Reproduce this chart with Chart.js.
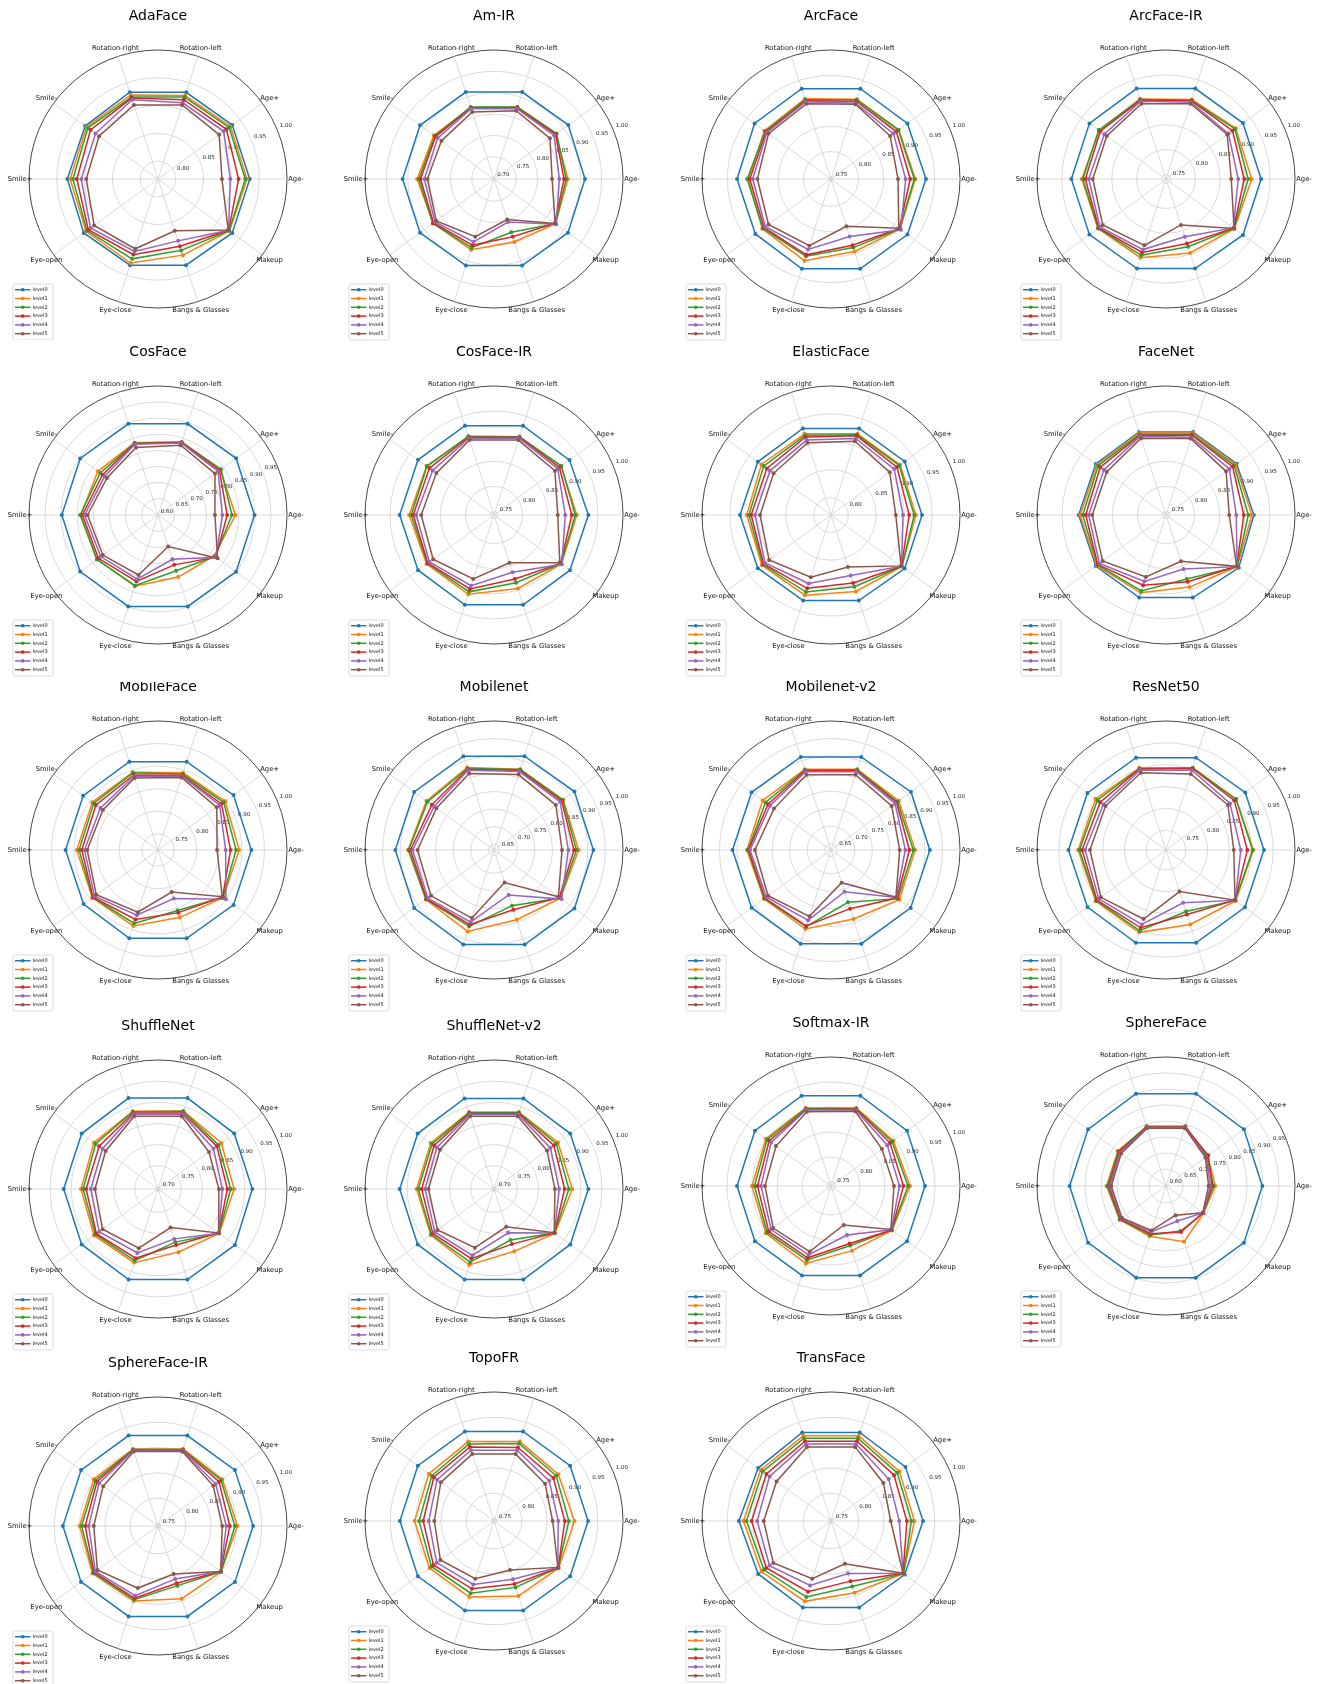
<!DOCTYPE html>
<html><head><meta charset="utf-8">
<script src="https://cdn.jsdelivr.net/npm/chart.js@4.4.1/dist/chart.umd.min.js"></script>
<style>
html,body{margin:0;padding:0;background:#fff;}
body{width:1319px;height:1684px;position:relative;overflow:hidden;}
canvas{position:absolute;}
</style></head><body>
<script>
// ---------------- DATA ----------------
const categories = ['Age-','Age+','Rotation-left','Rotation-right','Smile-','Smile+','Eye-open','Eye-close','Bangs & Glasses','Makeup'];
const levels = ['level0','level1','level2','level3','level4','level5'];
const models = ['AdaFace','Am-IR','ArcFace','ArcFace-IR','CosFace','CosFace-IR','ElasticFace','FaceNet','MobileFace','Mobilenet','Mobilenet-v2','ResNet50','ShuffleNet','ShuffleNet-v2','Softmax-IR','SphereFace','SphereFace-IR','TopoFR','TransFace'];

// rows = level0..level5, columns follow `categories`
const AdaFace = [
 [0.933,0.933,0.932,0.932,0.930,0.931,0.933,0.931,0.931,0.933],
 [0.928,0.929,0.926,0.927,0.927,0.926,0.928,0.927,0.912,0.927],
 [0.925,0.926,0.923,0.923,0.924,0.921,0.926,0.919,0.903,0.926],
 [0.913,0.920,0.918,0.921,0.918,0.914,0.923,0.911,0.895,0.925],
 [0.898,0.914,0.912,0.918,0.907,0.906,0.918,0.905,0.885,0.925],
 [0.883,0.904,0.908,0.908,0.899,0.897,0.910,0.900,0.866,0.924]];
const AmIR = [
 [0.911,0.913,0.912,0.912,0.912,0.912,0.912,0.911,0.911,0.912],
 [0.871,0.877,0.875,0.874,0.872,0.878,0.874,0.872,0.853,0.876],
 [0.867,0.879,0.875,0.875,0.869,0.874,0.875,0.867,0.829,0.876],
 [0.862,0.876,0.873,0.873,0.867,0.870,0.873,0.861,0.840,0.874],
 [0.851,0.872,0.871,0.871,0.861,0.861,0.869,0.853,0.804,0.878],
 [0.834,0.860,0.866,0.863,0.850,0.854,0.865,0.840,0.798,0.875]];
const ArcFace = [
 [0.933,0.932,0.933,0.933,0.932,0.931,0.930,0.932,0.932,0.932],
 [0.912,0.911,0.911,0.912,0.908,0.909,0.913,0.915,0.896,0.914],
 [0.910,0.910,0.910,0.910,0.906,0.911,0.912,0.906,0.888,0.913],
 [0.902,0.905,0.907,0.908,0.904,0.906,0.909,0.903,0.883,0.912],
 [0.893,0.898,0.903,0.906,0.902,0.900,0.906,0.892,0.865,0.916],
 [0.878,0.890,0.901,0.902,0.898,0.891,0.898,0.884,0.844,0.911]];
const ArcFaceIR = [
 [0.932,0.932,0.932,0.932,0.931,0.931,0.931,0.930,0.930,0.932],
 [0.913,0.914,0.909,0.910,0.907,0.910,0.910,0.907,0.897,0.911],
 [0.906,0.912,0.907,0.909,0.908,0.908,0.909,0.902,0.884,0.910],
 [0.898,0.906,0.906,0.907,0.904,0.903,0.908,0.896,0.877,0.909],
 [0.886,0.896,0.903,0.905,0.894,0.896,0.905,0.890,0.863,0.908],
 [0.872,0.893,0.900,0.900,0.888,0.888,0.898,0.881,0.838,0.910]];
const CosFace = [
 [0.899,0.899,0.897,0.897,0.898,0.898,0.898,0.898,0.898,0.899],
 [0.840,0.838,0.838,0.835,0.830,0.839,0.833,0.832,0.802,0.815],
 [0.829,0.841,0.837,0.834,0.821,0.841,0.834,0.830,0.781,0.818],
 [0.814,0.835,0.836,0.833,0.812,0.834,0.828,0.816,0.762,0.822],
 [0.799,0.830,0.834,0.830,0.804,0.827,0.819,0.809,0.744,0.822],
 [0.776,0.818,0.827,0.820,0.795,0.818,0.811,0.795,0.702,0.828]];
const CosFaceIR = [
 [0.931,0.929,0.930,0.930,0.930,0.931,0.930,0.931,0.931,0.930],
 [0.908,0.908,0.907,0.907,0.909,0.912,0.909,0.909,0.897,0.909],
 [0.905,0.909,0.907,0.908,0.908,0.908,0.907,0.904,0.885,0.908],
 [0.898,0.904,0.906,0.906,0.902,0.904,0.906,0.898,0.877,0.907],
 [0.885,0.900,0.904,0.904,0.894,0.898,0.902,0.891,0.863,0.910],
 [0.870,0.893,0.900,0.900,0.885,0.888,0.893,0.877,0.843,0.905]];
const ElasticFace = [
 [0.932,0.932,0.932,0.932,0.931,0.932,0.931,0.930,0.930,0.932],
 [0.921,0.922,0.922,0.922,0.923,0.920,0.922,0.920,0.913,0.926],
 [0.918,0.920,0.920,0.919,0.918,0.916,0.920,0.914,0.904,0.926],
 [0.909,0.915,0.918,0.916,0.911,0.912,0.918,0.907,0.897,0.925],
 [0.898,0.909,0.913,0.910,0.904,0.905,0.915,0.898,0.883,0.925],
 [0.885,0.899,0.908,0.905,0.896,0.896,0.906,0.886,0.867,0.924]];
const FaceNet = [
 [0.918,0.917,0.917,0.917,0.916,0.917,0.916,0.916,0.916,0.922],
 [0.914,0.914,0.915,0.915,0.913,0.914,0.914,0.906,0.894,0.918],
 [0.907,0.911,0.912,0.912,0.910,0.909,0.912,0.902,0.877,0.918],
 [0.898,0.907,0.910,0.910,0.905,0.903,0.911,0.890,0.883,0.917],
 [0.883,0.899,0.906,0.908,0.896,0.897,0.907,0.882,0.856,0.918],
 [0.869,0.891,0.903,0.904,0.889,0.890,0.899,0.873,0.840,0.917]];
const MobileFace = [
 [0.921,0.921,0.920,0.920,0.919,0.919,0.918,0.920,0.920,0.921],
 [0.894,0.898,0.894,0.895,0.894,0.894,0.894,0.891,0.871,0.893],
 [0.887,0.894,0.891,0.894,0.890,0.889,0.893,0.885,0.855,0.892],
 [0.875,0.888,0.888,0.889,0.884,0.883,0.892,0.876,0.860,0.891],
 [0.864,0.883,0.886,0.886,0.872,0.877,0.888,0.866,0.827,0.900],
 [0.845,0.875,0.883,0.882,0.865,0.871,0.883,0.859,0.812,0.890]];
const Mobilenet = [
 [0.916,0.916,0.914,0.914,0.914,0.914,0.914,0.916,0.916,0.916],
 [0.874,0.877,0.875,0.880,0.871,0.878,0.873,0.877,0.842,0.867],
 [0.868,0.875,0.874,0.877,0.867,0.876,0.872,0.862,0.800,0.866],
 [0.861,0.871,0.871,0.875,0.852,0.871,0.870,0.857,0.812,0.863],
 [0.845,0.866,0.868,0.872,0.844,0.865,0.866,0.849,0.768,0.871],
 [0.827,0.851,0.859,0.862,0.836,0.851,0.855,0.837,0.731,0.860]];
const MobilenetV2 = [
 [0.914,0.914,0.911,0.911,0.912,0.913,0.912,0.913,0.913,0.913],
 [0.872,0.871,0.874,0.874,0.873,0.872,0.869,0.869,0.839,0.873],
 [0.867,0.866,0.873,0.872,0.863,0.869,0.867,0.862,0.789,0.868],
 [0.856,0.863,0.870,0.870,0.854,0.867,0.865,0.860,0.808,0.865],
 [0.844,0.858,0.867,0.867,0.847,0.863,0.860,0.843,0.757,0.862],
 [0.828,0.846,0.858,0.858,0.833,0.849,0.854,0.831,0.730,0.861]];
const ResNet50 = [
 [0.929,0.929,0.927,0.927,0.927,0.928,0.927,0.928,0.928,0.928],
 [0.905,0.903,0.903,0.902,0.904,0.906,0.904,0.903,0.884,0.902],
 [0.903,0.903,0.902,0.901,0.899,0.903,0.902,0.899,0.853,0.901],
 [0.891,0.898,0.901,0.900,0.891,0.897,0.900,0.892,0.860,0.900],
 [0.876,0.886,0.897,0.897,0.882,0.890,0.895,0.884,0.832,0.901],
 [0.860,0.880,0.888,0.891,0.876,0.879,0.889,0.871,0.805,0.900]];
const ShuffleNet = [
 [0.918,0.918,0.921,0.921,0.918,0.918,0.918,0.920,0.920,0.920],
 [0.875,0.880,0.889,0.888,0.882,0.877,0.882,0.878,0.852,0.874],
 [0.867,0.872,0.888,0.887,0.877,0.872,0.878,0.873,0.827,0.873],
 [0.859,0.867,0.884,0.884,0.867,0.865,0.875,0.867,0.834,0.872],
 [0.847,0.857,0.881,0.881,0.857,0.854,0.867,0.854,0.819,0.873],
 [0.839,0.844,0.876,0.876,0.848,0.844,0.857,0.842,0.791,0.872]];
const ShuffleNetV2 = [
 [0.918,0.918,0.920,0.920,0.918,0.918,0.918,0.920,0.920,0.918],
 [0.880,0.882,0.886,0.886,0.880,0.878,0.880,0.884,0.850,0.873],
 [0.872,0.877,0.885,0.885,0.876,0.874,0.878,0.877,0.822,0.872],
 [0.862,0.870,0.883,0.883,0.870,0.866,0.874,0.868,0.832,0.872],
 [0.849,0.860,0.880,0.880,0.862,0.858,0.868,0.860,0.804,0.872],
 [0.839,0.850,0.876,0.876,0.853,0.850,0.860,0.841,0.789,0.871]];
const SoftmaxIR = [
 [0.930,0.930,0.932,0.932,0.930,0.930,0.930,0.930,0.930,0.930],
 [0.900,0.896,0.906,0.906,0.903,0.900,0.903,0.905,0.878,0.893],
 [0.896,0.893,0.905,0.905,0.900,0.895,0.900,0.898,0.867,0.892],
 [0.887,0.888,0.904,0.903,0.895,0.889,0.896,0.893,0.863,0.892],
 [0.879,0.881,0.902,0.902,0.890,0.882,0.890,0.887,0.845,0.891],
 [0.868,0.868,0.899,0.898,0.878,0.874,0.885,0.880,0.824,0.890]];
const SphereFace = [
 [0.898,0.898,0.900,0.900,0.898,0.898,0.898,0.898,0.898,0.898],
 [0.751,0.757,0.792,0.792,0.783,0.783,0.776,0.762,0.780,0.742],
 [0.745,0.755,0.793,0.793,0.781,0.780,0.775,0.758,0.745,0.741],
 [0.741,0.760,0.791,0.791,0.778,0.776,0.773,0.754,0.748,0.740],
 [0.736,0.752,0.789,0.789,0.774,0.772,0.770,0.748,0.712,0.740],
 [0.730,0.749,0.787,0.787,0.770,0.768,0.767,0.743,0.693,0.739]];
const SphereFaceIR = [
 [0.933,0.933,0.933,0.933,0.933,0.933,0.933,0.933,0.933,0.933],
 [0.902,0.902,0.905,0.905,0.902,0.900,0.905,0.901,0.896,0.899],
 [0.897,0.899,0.904,0.904,0.898,0.896,0.903,0.898,0.869,0.899],
 [0.887,0.894,0.903,0.903,0.894,0.889,0.901,0.895,0.864,0.898],
 [0.880,0.886,0.902,0.902,0.889,0.882,0.898,0.890,0.855,0.898],
 [0.872,0.880,0.900,0.900,0.879,0.872,0.893,0.874,0.845,0.898]];
const TopoFR = [
 [0.931,0.931,0.931,0.931,0.931,0.931,0.931,0.931,0.931,0.931],
 [0.904,0.902,0.910,0.910,0.904,0.902,0.903,0.903,0.901,0.903],
 [0.893,0.897,0.906,0.905,0.897,0.893,0.898,0.895,0.883,0.902],
 [0.885,0.890,0.898,0.899,0.892,0.885,0.893,0.886,0.876,0.902],
 [0.872,0.880,0.892,0.892,0.884,0.874,0.885,0.877,0.866,0.901],
 [0.861,0.870,0.884,0.884,0.875,0.863,0.876,0.865,0.847,0.901]];
const TransFace = [
 [0.927,0.927,0.929,0.929,0.923,0.927,0.923,0.925,0.925,0.925],
 [0.910,0.912,0.922,0.922,0.917,0.918,0.915,0.912,0.894,0.922],
 [0.904,0.907,0.917,0.917,0.912,0.912,0.909,0.903,0.881,0.922],
 [0.895,0.899,0.911,0.911,0.903,0.902,0.903,0.892,0.870,0.921],
 [0.880,0.886,0.905,0.905,0.895,0.891,0.895,0.879,0.854,0.921],
 [0.863,0.873,0.899,0.899,0.878,0.878,0.886,0.865,0.834,0.921]];

const modelData = {'AdaFace':AdaFace,'Am-IR':AmIR,'ArcFace':ArcFace,'ArcFace-IR':ArcFaceIR,'CosFace':CosFace,'CosFace-IR':CosFaceIR,'ElasticFace':ElasticFace,'FaceNet':FaceNet,'MobileFace':MobileFace,'Mobilenet':Mobilenet,'Mobilenet-v2':MobilenetV2,'ResNet50':ResNet50,'ShuffleNet':ShuffleNet,'ShuffleNet-v2':ShuffleNetV2,'Softmax-IR':SoftmaxIR,'SphereFace':SphereFace,'SphereFace-IR':SphereFaceIR,'TopoFR':TopoFR,'TransFace':TransFace};

// radial axis lower limits
const rMin = {'AdaFace':0.768,'Am-IR':0.698,'ArcFace':0.746,'ArcFace-IR':0.741,'CosFace':0.599,'CosFace-IR':0.743,'ElasticFace':0.769,'FaceNet':0.743,'MobileFace':0.714,'Mobilenet':0.634,'Mobilenet-v2':0.632,'ResNet50':0.705,'ShuffleNet':0.695,'ShuffleNet-v2':0.695,'Softmax-IR':0.742,'SphereFace':0.597,'SphereFace-IR':0.745,'TopoFR':0.745,'TransFace':0.745};
const rMax = 1.0;

// radial tick labels
const T60 = ['0.60','0.65','0.70','0.75','0.80','0.85','0.90','0.95'];
const T65 = ['0.65','0.70','0.75','0.80','0.85','0.90','0.95','1.00'];
const T70 = ['0.70','0.75','0.80','0.85','0.90','0.95','1.00'];
const T75 = ['0.75','0.80','0.85','0.90','0.95','1.00'];
const T80 = ['0.80','0.85','0.90','0.95','1.00'];
const tickLabels = {'AdaFace':T80,'Am-IR':T70,'ArcFace':T75,'ArcFace-IR':T75,'CosFace':T60,'CosFace-IR':T75,'ElasticFace':T80,'FaceNet':T75,'MobileFace':T75,'Mobilenet':T65,'Mobilenet-v2':T65,'ResNet50':T75,'ShuffleNet':T70,'ShuffleNet-v2':T70,'Softmax-IR':T75,'SphereFace':T60,'SphereFace-IR':T75,'TopoFR':T75,'TransFace':T75};

// ---------------- STYLE / LAYOUT ----------------
const colors = ['#1f77b4','#ff7f0e','#2ca02c','#d62728','#9467bd','#8c564b'];
const FONT = '"DejaVu Sans", "Liberation Sans", sans-serif';
const colX = [158, 494, 831, 1166];
const layout = [
 ['AdaFace',0,179],['Am-IR',1,179],['ArcFace',2,179],['ArcFace-IR',3,179],
 ['CosFace',0,515],['CosFace-IR',1,515],['ElasticFace',2,515],['FaceNet',3,515],
 ['MobileFace',0,850],['Mobilenet',1,850],['Mobilenet-v2',2,850],['ResNet50',3,850],
 ['ShuffleNet',0,1189],['ShuffleNet-v2',1,1189],['Softmax-IR',2,1186],['SphereFace',3,1186],
 ['SphereFace-IR',0,1526],['TopoFR',1,1521],['TransFace',2,1521]];
// Chart.js places labels clockwise from startAngle; matplotlib goes counter-clockwise from the right
const order = [0,9,8,7,6,5,4,3,2,1];

const decor = {
  id: 'decor',
  beforeDatasetsDraw(chart, args, opts) {
    const s = chart.scales.r, ctx = chart.ctx;
    const a = 22.5 * Math.PI / 180;
    ctx.save();
    ctx.font = '5.5px ' + FONT;
    ctx.fillStyle = '#222';
    ctx.textAlign = 'left';
    ctx.textBaseline = 'bottom';
    opts.ticks.forEach(t => {
      const d = s.getDistanceFromCenterForValue(parseFloat(t));
      ctx.fillText(t, s.xCenter + d * Math.cos(a) + 2.5, s.yCenter - d * Math.sin(a) - 1);
    });
    ctx.restore();
  },
  afterDraw(chart, args, opts) {
    const s = chart.scales.r, ctx = chart.ctx;
    const cx = s.xCenter, cy = s.yCenter, R = s.drawingArea;
    ctx.save();
    // category labels
    ctx.font = '6.8px ' + FONT;
    ctx.fillStyle = '#111';
    ctx.textAlign = 'center';
    ctx.textBaseline = 'middle';
    chart.data.labels.forEach((lab, i) => {
      const p = s.getPointPosition(i, R + 9);
      ctx.fillText(lab, p.x, p.y);
    });
    // title
    ctx.font = '14px ' + FONT;
    ctx.fillStyle = '#000';
    ctx.textBaseline = 'alphabetic';
    ctx.fillText(opts.title, cx, cy - 159);
    // legend
    const bx = cx - 145, by = cy + 105, bw = 40, bh = 56;
    ctx.beginPath();
    ctx.roundRect(bx, by, bw, bh, 2);
    ctx.fillStyle = 'rgba(255,255,255,0.8)';
    ctx.fill();
    ctx.lineWidth = 0.8;
    ctx.strokeStyle = '#d4d4d4';
    ctx.stroke();
    ctx.font = '5px ' + FONT;
    ctx.textAlign = 'left';
    ctx.textBaseline = 'middle';
    chart.data.datasets.forEach((ds, k) => {
      const y = by + 5.7 + k * 8.8;
      ctx.strokeStyle = ds.borderColor;
      ctx.lineWidth = 1.5;
      ctx.beginPath(); ctx.moveTo(bx + 2, y); ctx.lineTo(bx + 17.5, y); ctx.stroke();
      ctx.fillStyle = ds.borderColor;
      ctx.beginPath(); ctx.arc(bx + 9.7, y, 1.8, 0, Math.PI * 2); ctx.fill();
      ctx.fillStyle = '#111';
      ctx.fillText(ds.label, bx + 19.5, y);
    });
    ctx.restore();
  }
};

layout.forEach(([name, col, cy]) => {
  const cx = colX[col];
  const H = name === 'CosFace' ? 342 : 350;
  const c = document.createElement('canvas');
  c.width = 330; c.height = H;
  c.style.left = (cx - 165) + 'px';
  c.style.top = (cy - 175) + 'px';
  if (name === 'CosFace') { c.style.background = '#fff'; c.style.zIndex = 2; }
  document.body.appendChild(c);
  const vals = modelData[name];
  const lo = rMin[name];
  const tickVals = [lo].concat(tickLabels[name].map(Number));
  if (tickVals[tickVals.length - 1] < rMax) tickVals.push(rMax);
  new Chart(c, {
    type: 'radar',
    data: {
      labels: order.map(i => categories[i]),
      datasets: levels.map((lv, k) => ({
        label: lv,
        data: order.map(i => vals[k][i]),
        borderColor: colors[k],
        backgroundColor: colors[k],
        pointBackgroundColor: colors[k],
        pointBorderColor: colors[k],
        pointBorderWidth: 0,
        pointRadius: 2,
        borderWidth: 1.5,
        fill: false,
        order: 5 - k
      }))
    },
    options: {
      responsive: false,
      animation: false,
      devicePixelRatio: 1,
      layout: { padding: { left: 36, right: 35, top: 46, bottom: H - 46 - 259 } },
      plugins: {
        legend: { display: false },
        tooltip: { enabled: false },
        decor: { title: name, ticks: tickLabels[name] }
      },
      scales: {
        r: {
          min: lo, max: rMax,
          startAngle: 90,
          afterBuildTicks: (sc) => { sc.ticks = tickVals.map(v => ({ value: v })); },
          ticks: { display: false },
          pointLabels: { display: false },
          grid: {
            circular: true,
            color: (ctx) => (ctx.tick && ctx.tick.value >= rMax - 1e-9) ? '#333' : '#d2d2d2',
            lineWidth: (ctx) => (ctx.tick && ctx.tick.value >= rMax - 1e-9) ? 0.9 : 0.8
          },
          angleLines: { color: '#d2d2d2', lineWidth: 0.8 }
        }
      }
    },
    plugins: [decor]
  });
});
</script>
</body></html>
